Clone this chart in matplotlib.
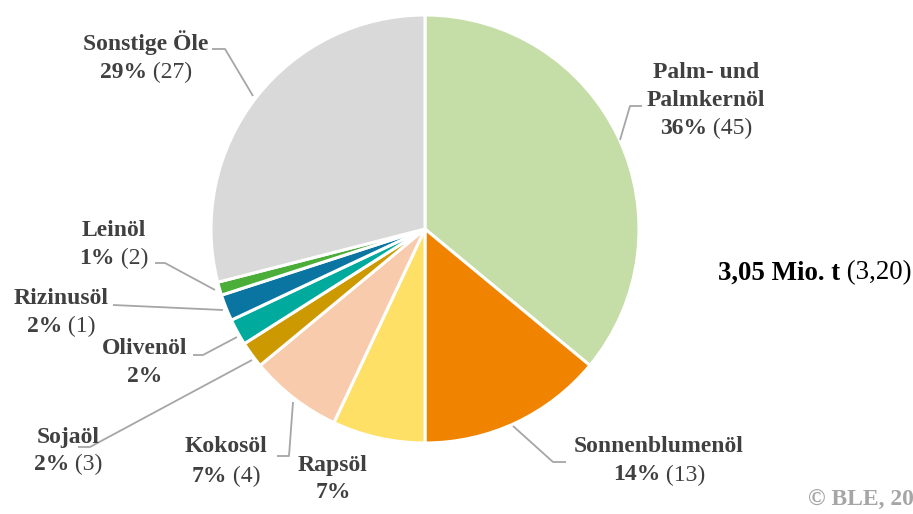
import matplotlib
matplotlib.use("Agg")
import matplotlib.pyplot as plt

categories = ["Palm- und\nPalmkernöl", "Sonnenblumenöl", "Rapsöl", "Kokosöl", "Sojaöl",
              "Olivenöl", "Rizinusöl", "Leinöl", "Sonstige Öle"]
shares = [36, 14, 7, 7, 2, 2, 2, 1, 29]
prev_year = ["45", "13", None, "4", "3", None, "1", "2", "27"]
colors = ["#c5dda6", "#f08300", "#ffe066", "#f8cbad", "#cc9900",
          "#00aa9c", "#0a75a0", "#4aae38", "#d9d9d9"]
total_label = "3,05 Mio. t"
total_prev = "(3,20)"

W, H = 913, 514
fig = plt.figure(figsize=(W / 100, H / 100), dpi=100)
ax = fig.add_axes([0, 0, 1, 1])
plt.rcParams['font.family'] = ['Liberation Serif', 'DejaVu Serif']

cx, cy, r = 425, 229, 214
ax.pie(shares, colors=colors, startangle=90, counterclock=False,
       center=(cx, H - cy), radius=r, frame=True,
       wedgeprops=dict(edgecolor="white", linewidth=2.2))
ax.set_xlim(0, W)
ax.set_ylim(0, H)
ax.set_aspect("equal")
ax.axis("off")

TXT = "#404040"
FS = 17
renderer = fig.canvas.get_renderer()


def line(x, y, parts, color=TXT, fs=FS):
    texts = []
    for s, wt in parts:
        t = ax.text(0, H - y, s, fontsize=fs, fontweight=wt, color=color,
                    ha="left", va="center")
        texts.append(t)
    widths = [t.get_window_extent(renderer).width for t in texts]
    tot = sum(widths)
    x0 = x - tot / 2
    for t, w in zip(texts, widths):
        t.set_x(x0)
        x0 += w


def label(x, y, idx, dy=28):
    names = categories[idx].split("\n")
    yy = y
    for n in names:
        line(x, yy, [(n, "bold")])
        yy += dy
    parts = [(f"{shares[idx]}%", "bold")]
    if prev_year[idx]:
        parts.append((f" ({prev_year[idx]})", "normal"))
    line(x, yy, parts)


def leader(pts):
    xs = [p[0] for p in pts]
    ys = [H - p[1] for p in pts]
    ax.plot(xs, ys, color="#a6a6a6", lw=1.3, solid_capstyle="butt")


label(706, 72, 0)
leader([(642, 106), (630, 106), (620, 140)])
label(659, 447, 1)
leader([(513, 426), (553, 462), (566, 462)])
label(333, 465, 2)
label(226, 446, 3, dy=30)
leader([(293, 402), (289, 456), (277, 456)])
label(68, 437, 4, dy=27)
leader([(252, 360), (90, 447), (78, 447)])
label(145, 349, 5)
leader([(237, 337), (203, 355), (193, 355)])
label(61, 298, 6)
leader([(113, 305), (223, 310)])
label(114, 231, 7, dy=27)
leader([(155, 263), (165, 263), (215, 290)])
label(146, 43, 8, dy=29)
leader([(212, 49), (225, 49), (253, 96)])

line(815, 273, [(total_label, "bold"), (" " + total_prev, "normal")], color="black", fs=19.4)
ax.text(808, H - 500, "© BLE, 2020", fontsize=17, fontweight="bold",
        color="#a6a6a6", ha="left", va="center")

fig.savefig("out.png", dpi=100)
